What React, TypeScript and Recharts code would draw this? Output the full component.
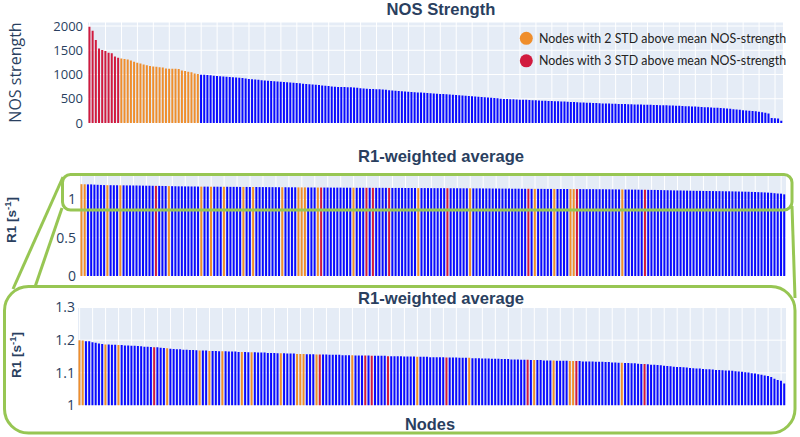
import { BarChart, Bar, XAxis, YAxis, CartesianGrid, Cell } from "recharts"

// NOS strength per node, sorted descending, split by group
const nosAbove3Std = [1985, 1900, 1710, 1535, 1505, 1485, 1450, 1440, 1370, 1345]
const nosAbove2Std = [
  1330, 1320, 1310, 1290, 1265, 1245, 1225, 1205, 1190, 1175, 1165, 1160, 1150, 1145, 1125,
  1120, 1120, 1120, 1115, 1085, 1070, 1055, 1045, 1020, 1010,
]
const nosRest = [
  995, 993, 990, 985, 976, 971, 966, 960, 955, 950, 944,
  940, 934, 926, 917, 908, 902, 896, 890, 884, 878, 872,
  867, 862, 857, 852, 848, 842, 836, 830, 824, 818,
  812, 806, 800, 795, 789, 782, 775, 768, 762, 755, 749,
  745, 742, 740, 738, 735, 731, 725, 719, 713, 707,
  703, 700, 697, 694, 690, 685, 678, 672, 666, 660, 655,
  650, 646, 641, 636, 631, 627, 622, 618, 613, 609, 604, 600, 596, 591, 586, 582,
  577, 573, 568, 563, 558, 553, 548, 543, 538, 533, 527, 521, 515, 508, 500,
  497, 494, 492, 489, 485, 482, 480, 477, 473, 470, 468, 465, 461, 458, 456, 453,
  449, 447, 444, 441, 437, 435, 432, 429, 425, 423, 420, 417, 413, 410, 406,
  404, 402, 400, 398, 396, 394, 392, 390, 388, 386, 384, 382, 380, 378, 376, 374,
  372, 370, 368, 366, 364, 362, 360, 357, 354, 351, 348, 345, 342, 339, 336,
  330, 327, 324, 320, 316, 312, 308, 303, 298, 292, 286, 279, 272,
  265, 259, 253, 247, 241, 233, 223, 210, 195,
  105, 100, 94, 47,
]

// R1-weighted average per node, sorted descending
const r1Weighted = [
  1.200, 1.199, 1.197, 1.197, 1.194, 1.192, 1.190, 1.188, 1.187, 1.187,
  1.186, 1.186, 1.185, 1.185, 1.184, 1.184, 1.183, 1.183, 1.182, 1.181,
  1.180, 1.180, 1.179, 1.178, 1.178, 1.177, 1.176, 1.175, 1.174, 1.173,
  1.172, 1.172, 1.171, 1.171, 1.170, 1.170, 1.169, 1.168, 1.168, 1.168,
  1.167, 1.167, 1.167, 1.166, 1.166, 1.166, 1.165, 1.165, 1.165, 1.164,
  1.164, 1.164, 1.163, 1.163, 1.163, 1.162, 1.162, 1.162, 1.161, 1.161,
  1.161, 1.160, 1.160, 1.160, 1.159, 1.159, 1.159, 1.158, 1.158, 1.158,
  1.157, 1.157, 1.157, 1.156, 1.156, 1.156, 1.156, 1.155, 1.155, 1.155,
  1.155, 1.154, 1.154, 1.154, 1.154, 1.153, 1.153, 1.153, 1.153, 1.153,
  1.152, 1.152, 1.152, 1.152, 1.152, 1.151, 1.151, 1.151, 1.151, 1.151,
  1.150, 1.150, 1.150, 1.150, 1.149, 1.149, 1.149, 1.149, 1.148, 1.148,
  1.148, 1.148, 1.148, 1.147, 1.147, 1.147, 1.147, 1.146, 1.146, 1.146,
  1.146, 1.145, 1.145, 1.145, 1.144, 1.144, 1.144, 1.143, 1.143, 1.143,
  1.142, 1.142, 1.142, 1.141, 1.141, 1.141, 1.140, 1.140, 1.140, 1.139,
  1.139, 1.139, 1.139, 1.138, 1.138, 1.138, 1.138, 1.137, 1.137, 1.137,
  1.137, 1.136, 1.136, 1.136, 1.136, 1.135, 1.135, 1.135, 1.135, 1.134,
  1.134, 1.134, 1.133, 1.133, 1.132, 1.132, 1.131, 1.131, 1.130, 1.130,
  1.129, 1.129, 1.128, 1.127, 1.127, 1.126, 1.125, 1.125, 1.124, 1.123,
  1.122, 1.121, 1.120, 1.119, 1.118, 1.118, 1.117, 1.116, 1.115, 1.114,
  1.113, 1.113, 1.112, 1.111, 1.111, 1.110, 1.109, 1.109, 1.108, 1.107,
  1.107, 1.106, 1.105, 1.104, 1.103, 1.102, 1.101, 1.099, 1.098, 1.096,
  1.094, 1.092, 1.090, 1.087, 1.082, 1.078, 1.076, 1.067,
]
// positions (in R1 order) of the nodes flagged in the NOS chart
const r1Above2StdIdx = [0, 1, 8, 12, 27, 37, 40, 44, 50, 53, 62, 67, 68, 69, 73, 84, 104, 120, 140, 146, 151, 152, 167]
const r1Above3StdIdx = [23, 74, 88, 90, 95, 113, 138, 153, 174]

const nosTicks = [0, 500, 1000, 1500, 2000]
const r1FullTicks = [0, 0.5, 1]
const r1ZoomTicks = [1, 1.1, 1.2, 1.3]

const BLUE = "#0a0aff"
const ORANGE = "#ef8e2c"
const RED = "#d11a3e"
const GREEN = "#97c653"
const INK = "#2a3f5f"
const BG = "#e5ecf6"

type Group = "rest" | "2std" | "3std"
const groupColor: Record<Group, string> = { rest: BLUE, "2std": ORANGE, "3std": RED }

const nosData = [
  ...nosAbove3Std.map(v => ({ value: v, group: "3std" as Group })),
  ...nosAbove2Std.map(v => ({ value: v, group: "2std" as Group })),
  ...nosRest.map(v => ({ value: v, group: "rest" as Group })),
].map((d, i) => ({ node: i, ...d }))

const r1Data = r1Weighted.map((v, i) => ({
  node: i,
  value: v,
  group: (r1Above3StdIdx.includes(i) ? "3std" : r1Above2StdIdx.includes(i) ? "2std" : "rest") as Group,
}))

// plotly-like vertical gridlines on every n-th category
const everyNth = (count: number, n: number) => ({ offset }: any) => {
  const step = offset.width / count
  const xs: number[] = []
  for (let i = 0; i < count; i += n) xs.push(offset.left + step * (i + 0.5))
  return xs
}

const tickStyle = (size: number) => ({ fill: INK, fontSize: size, fontFamily: "Open Sans" })

interface PanelProps {
  data: { node: number; value: number; group: Group }[]
  top: number
  height: number
  margin: { top: number; right: number; bottom: number; left: number }
  yWidth: number
  domain: [number, number]
  ticks: number[]
  gridEvery: number
  fontSize: number
  tickGap: number
}

function Panel({ data, top, height, margin, yWidth, domain, ticks, gridEvery, fontSize, tickGap }: PanelProps) {
  return (
    <div style={{ position: "absolute", left: 0, top }}>
      <BarChart width={800} height={height} data={data} margin={margin} barCategoryGap="14%">
        <CartesianGrid
          fill={BG}
          stroke="#ffffff"
          strokeWidth={1}
          verticalCoordinatesGenerator={everyNth(data.length, gridEvery)}
        />
        <XAxis dataKey="node" type="category" hide />
        <YAxis
          type="number"
          domain={domain}
          ticks={ticks}
          allowDataOverflow
          width={yWidth}
          axisLine={false}
          tickLine={false}
          tickSize={tickGap}
          tickMargin={0}
          tick={tickStyle(fontSize)}
        />
        <Bar dataKey="value" isAnimationActive={false}>
          {data.map((d, i) => (
            <Cell key={`c-${i}`} fill={groupColor[d.group]} />
          ))}
        </Bar>
      </BarChart>
    </div>
  )
}

const titleFont = { fontFamily: "Liberation Sans, Arial, sans-serif", fontWeight: 700, fill: INK }

export default function App() {
  return (
    <div style={{ position: "fixed", left: 0, top: 0, width: 800, height: 437, background: "#fff", overflow: "hidden" }}>
      <Panel
        data={nosData}
        top={0}
        height={140}
        margin={{ top: 22, right: 17, bottom: 17, left: 0 }}
        yWidth={88}
        domain={[0, 2083]}
        ticks={nosTicks}
        gridEvery={5}
        fontSize={13}
        tickGap={5}
      />
      <Panel
        data={r1Data}
        top={165}
        height={125}
        margin={{ top: 10, right: 14, bottom: 14, left: 0 }}
        yWidth={80}
        domain={[0, 1.32]}
        ticks={r1FullTicks}
        gridEvery={4}
        fontSize={14}
        tickGap={4}
      />
      <Panel
        data={r1Data}
        top={290}
        height={130}
        margin={{ top: 17.5, right: 14, bottom: 14.5, left: 0 }}
        yWidth={78}
        domain={[1, 1.3]}
        ticks={r1ZoomTicks}
        gridEvery={4}
        fontSize={14}
        tickGap={3}
      />

      <svg width={800} height={437} style={{ position: "absolute", left: 0, top: 0, pointerEvents: "none" }}>
        <text x={441} y={15} textAnchor="middle" fontSize={16.6} {...titleFont}>NOS Strength</text>
        <text x={441} y={162} textAnchor="middle" fontSize={16.6} {...titleFont}>R1-weighted average</text>
        <text x={441} y={303.5} textAnchor="middle" fontSize={16.6} {...titleFont}>R1-weighted average</text>
        <text x={430} y={430} textAnchor="middle" fontSize={16.4} {...titleFont}>Nodes</text>

        <text transform="translate(21,72.5) rotate(-90)" textAnchor="middle" fontSize={16} fontFamily="Open Sans" fill={INK}>
          NOS strength
        </text>
        <text transform="translate(16,220) rotate(-90)" textAnchor="middle" fontSize={13.5} {...titleFont}>
          R1 [s<tspan dy={-5} fontSize={9.5}>-1</tspan><tspan dy={5}>]</tspan>
        </text>
        <text transform="translate(21,355) rotate(-90)" textAnchor="middle" fontSize={13.5} {...titleFont}>
          R1 [s<tspan dy={-5} fontSize={9.5}>-1</tspan><tspan dy={5}>]</tspan>
        </text>

        {/* legend */}
        <circle cx={526.3} cy={38.3} r={6.5} fill={ORANGE} />
        <text x={539} y={42.5} fontSize={12.4} fontFamily="Lato" fill="#222">
          Nodes with 2 STD above mean NOS-strength
        </text>
        <circle cx={526.3} cy={60.8} r={6.5} fill={RED} />
        <text x={539} y={65} fontSize={12.4} fontFamily="Lato" fill="#222">
          Nodes with 3 STD above mean NOS-strength
        </text>

        {/* zoom callout */}
        <g fill="none" stroke={GREEN} strokeWidth={3} strokeLinejoin="round">
          <rect x={62.5} y={174.5} width={729.5} height={35.5} rx={8} />
          <line x1={63} y1={177} x2={13} y2={289} />
          <line x1={62} y1={208} x2={35} y2={287} />
          <line x1={792} y1={206} x2={795} y2={298} />
          <rect x={4.5} y={286.5} width={790.5} height={146.5} rx={24} />
        </g>
      </svg>
    </div>
  )
}
